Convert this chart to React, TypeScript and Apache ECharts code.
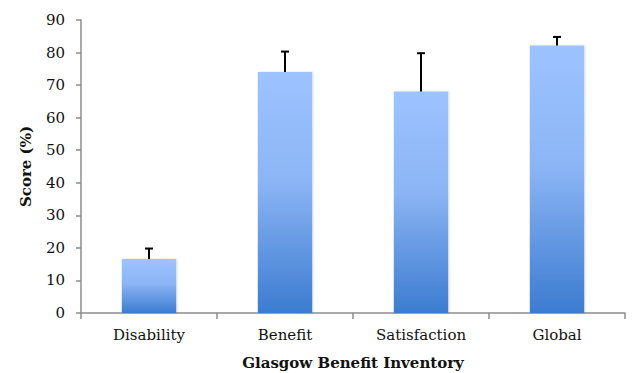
import React, { useEffect, useRef } from "react";
import * as echarts from "echarts";

const categories = ["Disability", "Benefit", "Satisfaction", "Global"];
const scores = [16.6, 74, 68, 82.2];
const errorUpper = [19.8, 80.3, 79.8, 84.8];
const yTicks = [0, 10, 20, 30, 40, 50, 60, 70, 80, 90];

const FONT = "DejaVu Serif";

export default function App() {
  const ref = useRef<HTMLDivElement>(null);
  useEffect(() => {
    if (!ref.current) return;
    const chart = echarts.init(ref.current, null, { renderer: "svg" });
    chart.setOption({
      animation: false,
      grid: { left: 81, right: 8, top: 20, bottom: 60, containLabel: false, outerBoundsMode: "none" },
      xAxis: {
        type: "category",
        data: categories,
        name: "Glasgow Benefit Inventory",
        nameLocation: "middle",
        nameGap: 42,
        nameTextStyle: { fontFamily: FONT, fontWeight: "bold", fontSize: 15, color: "#111" },
        axisLine: { lineStyle: { color: "#8c8c8c", width: 1.5 } },
        axisTick: { show: true, length: 6, lineStyle: { color: "#8c8c8c", width: 1.5 } },
        axisLabel: { fontFamily: FONT, fontSize: 15, color: "#111", margin: 14 },
      },
      yAxis: {
        type: "value",
        min: yTicks[0],
        max: yTicks[yTicks.length - 1],
        interval: 10,
        name: "Score (%)",
        nameLocation: "middle",
        nameGap: 48,
        nameTextStyle: { fontFamily: FONT, fontWeight: "bold", fontSize: 15, color: "#111" },
        axisLine: { show: true, lineStyle: { color: "#8c8c8c", width: 1.5 } },
        axisTick: { show: true, length: 5, lineStyle: { color: "#8c8c8c", width: 1.5 } },
        axisLabel: { fontFamily: FONT, fontSize: 15, color: "#111", margin: 16 },
        splitLine: { show: false },
      },
      series: [
        {
          type: "bar",
          data: scores,
          barWidth: "40%",
          itemStyle: {
            color: new echarts.graphic.LinearGradient(0, 0, 0, 1, [
              { offset: 0, color: "#9dc3ff" },
              { offset: 0.45, color: "#8cb5f5" },
              { offset: 1, color: "#3c7cd0" },
            ]),
            shadowColor: "rgba(0,0,0,0.15)",
            shadowBlur: 2,
            shadowOffsetX: 1,
          },
          z: 2,
        },
        {
          type: "custom",
          data: scores.map((v, i) => [i, v, errorUpper[i]]),
          z: 3,
          renderItem: (params: any, api: any) => {
            const i = api.value(0);
            const base = api.coord([i, api.value(1)]);
            const top = api.coord([i, api.value(2)]);
            const half = 4;
            return {
              type: "group",
              children: [
                {
                  type: "line",
                  shape: { x1: base[0], y1: base[1], x2: top[0], y2: top[1] },
                  style: { stroke: "#000", lineWidth: 2 },
                },
                {
                  type: "line",
                  shape: { x1: top[0] - half, y1: top[1], x2: top[0] + half, y2: top[1] },
                  style: { stroke: "#000", lineWidth: 2 },
                },
              ],
            };
          },
        },
      ],
    });
    return () => chart.dispose();
  }, []);
  return <div ref={ref} style={{ width: 633, height: 373, position: "absolute", left: 0, top: 0 }} />;
}
